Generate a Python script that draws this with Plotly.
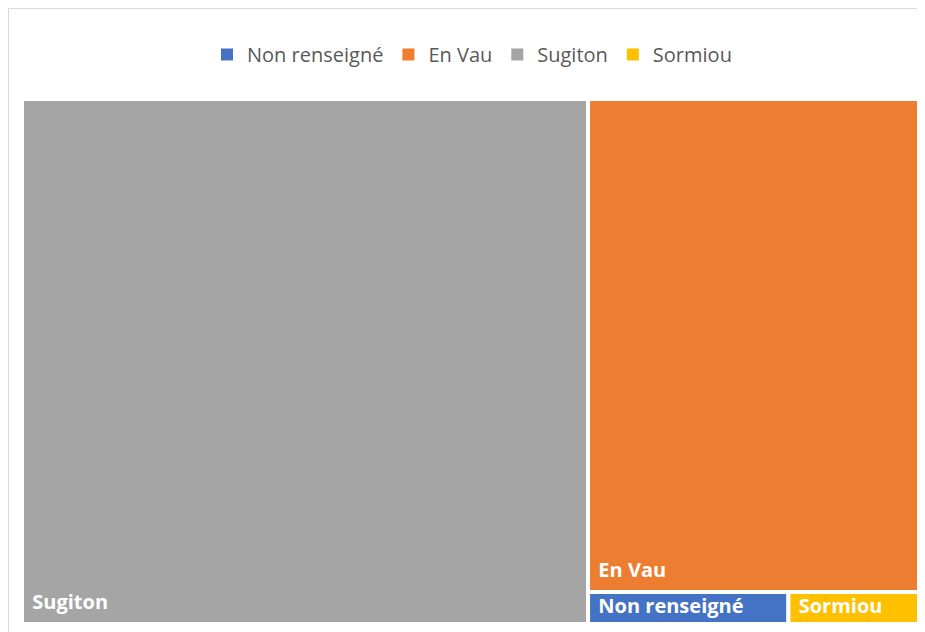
import plotly.graph_objects as go

# =========================
# DATA
# =========================
labels = ["Non renseigné", "En Vau", "Sugiton", "Sormiou"]
values = [3, 77, 139, 2]
colors = ["#4472C4", "#ED7D31", "#A5A5A5", "#FFC000"]

# =========================
# STYLE
# =========================
TEXT_FONT = dict(family="Open Sans, Arial", size=20, color="white")
LEGEND_FONT = dict(family="Open Sans, Arial", size=20, color="#595959")

# leading nbsp = left inset, big trailing nbsp = lifts the label off the bottom edge
INSET = "<span style='font-size:28px'>\u00a0</span>"
BIG_TILE = INSET + "<b>%{label}</b><span style='font-size:41px'>\u00a0</span>"
SMALL_TILE = INSET + "<b>%{label}</b>"
templates = [SMALL_TILE if v < 10 else BIG_TILE for v in values]

fig = go.Figure()

fig.add_trace(go.Treemap(
    labels=labels,
    parents=[""] * len(labels),
    values=values,
    marker=dict(colors=colors, line=dict(color="white", width=4), pad=dict(t=0, l=0, r=0, b=0)),
    texttemplate=templates,
    textposition="bottom left",
    textfont=TEXT_FONT,
    hoverinfo="label+value",
    pathbar=dict(visible=False),
    tiling=dict(pad=0),
    sort=True,
))

# fake legend entries (treemap has no legend of its own)
for name, c in zip(labels, colors):
    fig.add_trace(go.Scatter(
        x=[None], y=[None],
        mode="markers",
        name=name,
        marker=dict(symbol="square", size=14, color=c),
        showlegend=True,
    ))

fig.update_layout(
    width=917,
    height=624,
    paper_bgcolor="white",
    plot_bgcolor="white",
    margin=dict(l=14, r=3, t=91, b=8),
    xaxis=dict(visible=False),
    yaxis=dict(visible=False),
    uniformtext=dict(minsize=20, mode="show"),
    legend=dict(
        orientation="h",
        x=0.5, xanchor="center",
        y=1.0848, yanchor="middle",
        font=LEGEND_FONT,
        itemsizing="constant",
    ),
    shapes=[dict(
        type="rect", xref="paper", yref="paper",
        x0=-0.015, x1=1.02, y0=-0.05, y1=1.1724,
        line=dict(color="#D9D9D9", width=1),
        fillcolor="rgba(0,0,0,0)",
    )],
)

fig.write_html("out.html")
